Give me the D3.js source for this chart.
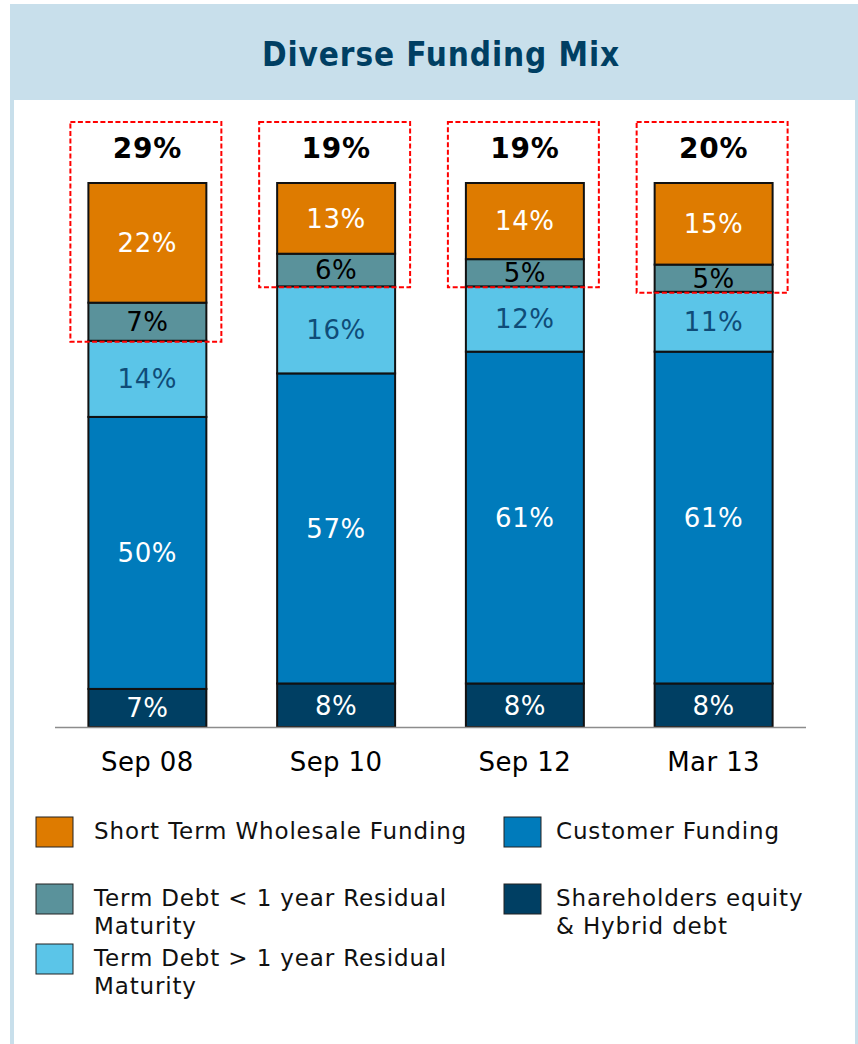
<!DOCTYPE html>
<html>
<head>
<script src="https://cdn.jsdelivr.net/npm/d3@7"></script>
<style>
  body { margin: 0; background: #fff; }
  svg { display: block; font-family: "DejaVu Sans", Verdana, sans-serif; }
</style>
</head>
<body>
<div id="chart"></div>
<script>
const categories = ["Sep 08", "Sep 10", "Sep 12", "Mar 13"];
const seriesNames = ["Shareholders equity & Hybrid debt", "Customer Funding",
  "Term Debt > 1 year Residual Maturity", "Term Debt < 1 year Residual Maturity",
  "Short Term Wholesale Funding"];
const equity = [7, 8, 8, 8];
const customer = [50, 57, 61, 61];
const termLong = [14, 16, 12, 11];
const termShort = [7, 6, 5, 5];
const wholesale = [22, 13, 14, 15];
const totals = [29, 19, 19, 20];

const colors = ["#003f63", "#007bbb", "#5bc5e8", "#5a929b", "#de7b00"];
const labelColors = ["#fff", "#fff", "#0f4c78", "#000", "#fff"];

const width = 858, height = 1044;
const svg = d3.select("#chart").append("svg").attr("width", width).attr("height", height);

// frame + header
svg.append("rect").attr("x", 10).attr("y", 4).attr("width", 848).attr("height", 1040).attr("fill", "#c8dfeb");
svg.append("rect").attr("x", 14).attr("y", 100).attr("width", 841).attr("height", 944).attr("fill", "#fff");
svg.append("text").attr("x", 441).attr("y", 66).attr("text-anchor", "middle")
  .attr("fill", "#003f63").attr("font-weight", "bold").attr("font-size", 33)
  .attr("letter-spacing", 0.9)
  .style("font-family", "'DejaVu Sans Condensed', 'DejaVu Sans', sans-serif")
  .text("Diverse Funding Mix");

const table = categories.map((c, i) => ({
  cat: c,
  [seriesNames[0]]: equity[i], [seriesNames[1]]: customer[i], [seriesNames[2]]: termLong[i],
  [seriesNames[3]]: termShort[i], [seriesNames[4]]: wholesale[i]
}));
const stacked = d3.stack().keys(seriesNames)(table);

const x = d3.scaleBand().domain(categories).range([53, 808]).paddingInner(0.375).paddingOuter(0.1875);
const y = d3.scaleLinear().domain([0, 100]).range([727, 183]);

const layers = svg.append("g").selectAll("g").data(stacked).join("g")
  .attr("fill", (d, i) => colors[i]);

layers.selectAll("rect").data(d => d).join("rect")
  .attr("x", d => x(d.data.cat))
  .attr("y", d => y(d[1]))
  .attr("width", x.bandwidth())
  .attr("height", d => y(d[0]) - y(d[1]))
  .attr("stroke", "#111").attr("stroke-width", 2);

layers.selectAll("text").data((d, i) => d.map(v => ({ v, i }))).join("text")
  .attr("x", d => x(d.v.data.cat) + x.bandwidth() / 2)
  .attr("y", d => (y(d.v[0]) + y(d.v[1])) / 2)
  .attr("dy", "0.36em")
  .attr("text-anchor", "middle")
  .attr("font-size", 26)
  .attr("letter-spacing", 0.6)
  .attr("fill", d => labelColors[d.i])
  .text(d => (d.v[1] - d.v[0]) + "%");

// axis baseline
svg.append("line").attr("x1", 55).attr("x2", 806).attr("y1", 727.5).attr("y2", 727.5)
  .attr("stroke", "#8c8c8c").attr("stroke-width", 1.5);

// category labels
const xAxis = svg.append("g").attr("transform", "translate(0,727)")
  .call(d3.axisBottom(x).tickSize(0).tickPadding(26));
xAxis.select(".domain").remove();
xAxis.selectAll("text").attr("font-size", 26).attr("fill", "#000").attr("letter-spacing", 0.4)
  .style("font-family", "'DejaVu Sans', Verdana, sans-serif");

// red dashed highlight boxes
const top2 = stacked[2];
svg.append("g").selectAll("rect").data(top2).join("rect")
  .attr("x", d => x(d.data.cat) - 18)
  .attr("y", 122)
  .attr("width", x.bandwidth() + 33)
  .attr("height", d => y(d[1]) + 1 - 122)
  .attr("fill", "none").attr("stroke", "#ff0000").attr("stroke-width", 2)
  .attr("stroke-dasharray", "5,2.5");

svg.append("g").selectAll("text").data(categories).join("text")
  .attr("x", d => x(d) + x.bandwidth() / 2)
  .attr("y", 148).attr("dy", "0.36em")
  .attr("text-anchor", "middle").attr("font-weight", "bold").attr("font-size", 28)
  .attr("letter-spacing", 0.8)
  .attr("fill", "#000")
  .text((d, i) => totals[i] + "%");

// legend
const legendItems = [
  { s: 4, x: 36, y: 817, lines: ["Short Term Wholesale Funding"] },
  { s: 3, x: 36, y: 884, lines: ["Term Debt < 1 year Residual", "Maturity"] },
  { s: 2, x: 36, y: 944, lines: ["Term Debt > 1 year Residual", "Maturity"] },
  { s: 1, x: 504, y: 817, lines: ["Customer Funding"] },
  { s: 0, x: 504, y: 884, lines: ["Shareholders equity", "& Hybrid debt"] }
];
const lg = svg.append("g").selectAll("g").data(legendItems).join("g")
  .attr("transform", d => `translate(${d.x},${d.y})`);
lg.append("rect").attr("width", 37).attr("height", 30)
  .attr("fill", d => colors[d.s]).attr("stroke", "#222").attr("stroke-width", 1);
lg.each(function (d) {
  const tx = d.x === 36 ? 58 : 52;
  const t = d3.select(this).append("text").attr("x", tx).attr("y", 22)
    .attr("font-size", 23).attr("letter-spacing", 0.85).attr("fill", "#111");
  d.lines.forEach((l, j) => t.append("tspan").attr("x", tx).attr("dy", j ? 28 : 0).text(l));
});
</script>
</body>
</html>
